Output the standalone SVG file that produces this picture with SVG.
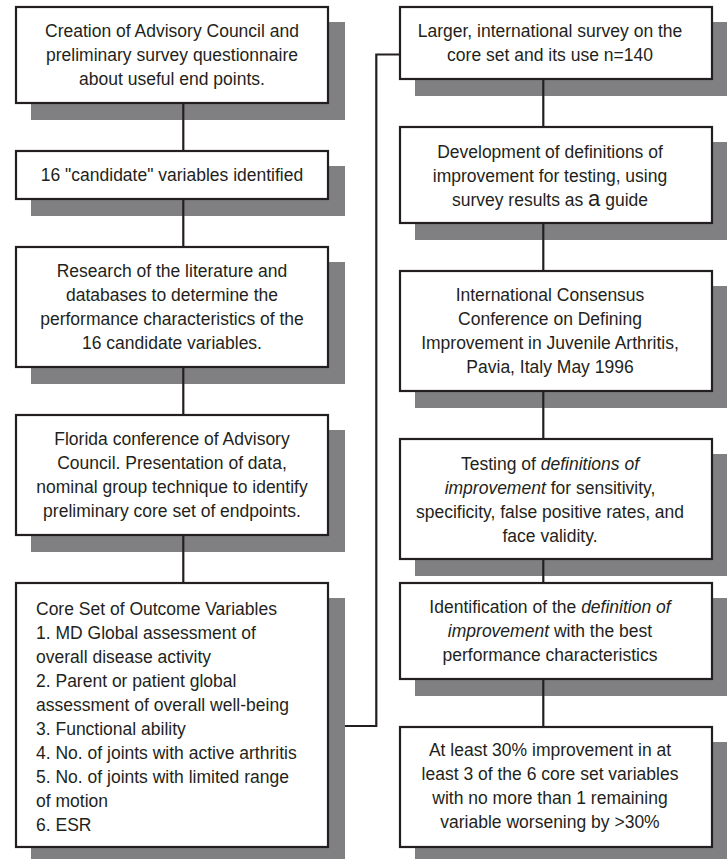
<svg xmlns="http://www.w3.org/2000/svg" width="727" height="859" viewBox="0 0 727 859">
<style>
.shadow{fill:#808083;stroke:none}
.box{fill:#fff;stroke:#231f20;stroke-width:2.2}
.t{font-family:"Liberation Sans",Arial,sans-serif;font-size:17.5px;fill:#231f20;text-anchor:middle}
.l{text-anchor:start}
.i{font-style:italic}
.conn{fill:none;stroke:#231f20;stroke-width:2.2}
</style>
<rect width="727" height="859" fill="#fff"/>
<g id="node-creation">
<rect class="shadow" x="31" y="22" width="314" height="98"/>
<rect class="box" x="16" y="7" width="312" height="96"/>
<text class="t" x="172" y="37">Creation of Advisory Council and</text>
<text class="t" x="172" y="61">preliminary survey questionnaire</text>
<text class="t" x="172" y="85">about useful  end points.</text>
</g>
<g id="node-candidates">
<rect class="shadow" x="31" y="166" width="314" height="50"/>
<rect class="box" x="16" y="151" width="312" height="48"/>
<text class="t" x="172" y="181">16 "candidate" variables identified</text>
</g>
<g id="node-research">
<rect class="shadow" x="31" y="262" width="314" height="122"/>
<rect class="box" x="16" y="247" width="312" height="120"/>
<text class="t" x="172" y="277">Research of the literature and</text>
<text class="t" x="172" y="301">databases to determine the</text>
<text class="t" x="172" y="325">performance characteristics of the</text>
<text class="t" x="172" y="349">16 candidate variables.</text>
</g>
<g id="node-florida">
<rect class="shadow" x="31" y="430" width="314" height="122"/>
<rect class="box" x="16" y="415" width="312" height="120"/>
<text class="t" x="172" y="445">Florida conference of Advisory</text>
<text class="t" x="172" y="469">Council. Presentation of data,</text>
<text class="t" x="172" y="493">nominal group technique to identify</text>
<text class="t" x="172" y="517">preliminary core set of endpoints.</text>
</g>
<g id="node-coreset">
<rect class="shadow" x="31" y="598" width="314" height="266"/>
<rect class="box" x="16" y="583" width="312" height="264"/>
<text class="t l" x="36" y="615">Core Set of Outcome Variables</text>
<text class="t l" x="36" y="639">1. MD Global assessment of</text>
<text class="t l" x="36" y="663">overall disease activity</text>
<text class="t l" x="36" y="687">2. Parent or patient global</text>
<text class="t l" x="36" y="711">assessment of overall well-being</text>
<text class="t l" x="36" y="735">3. Functional ability</text>
<text class="t l" x="36" y="759">4. No. of joints with active arthritis</text>
<text class="t l" x="36" y="783">5. No. of joints with limited range</text>
<text class="t l" x="36" y="807">of motion</text>
<text class="t l" x="36" y="831">6. ESR</text>
</g>
<g id="node-survey">
<rect class="shadow" x="415" y="22" width="314" height="74"/>
<rect class="box" x="400" y="7" width="312" height="72"/>
<text class="t" x="550" y="37">Larger, international survey on the</text>
<text class="t" x="550" y="61">core set and its use n=140</text>
</g>
<g id="node-development">
<rect class="shadow" x="415" y="142" width="314" height="98"/>
<rect class="box" x="400" y="127" width="312" height="96"/>
<text class="t" x="550" y="158">Development of definitions of</text>
<text class="t" x="550" y="182">improvement for testing, using</text>
<text class="t" x="550" y="206">survey results as <tspan font-size="22">a</tspan> guide</text>
</g>
<g id="node-pavia">
<rect class="shadow" x="415" y="286" width="314" height="122"/>
<rect class="box" x="400" y="271" width="312" height="120"/>
<text class="t" x="550" y="301">International Consensus</text>
<text class="t" x="550" y="325">Conference on Defining</text>
<text class="t" x="550" y="349">Improvement in Juvenile Arthritis,</text>
<text class="t" x="550" y="373">Pavia, Italy May 1996</text>
</g>
<g id="node-testing">
<rect class="shadow" x="415" y="454" width="314" height="122"/>
<rect class="box" x="400" y="439" width="312" height="120"/>
<text class="t" x="550" y="470">Testing of <tspan class="i">definitions of</tspan></text>
<text class="t" x="550" y="494"><tspan class="i">improvement</tspan> for sensitivity,</text>
<text class="t" x="550" y="518">specificity, false positive rates, and</text>
<text class="t" x="550" y="542">face validity.</text>
</g>
<g id="node-identification">
<rect class="shadow" x="415" y="598" width="314" height="98"/>
<rect class="box" x="400" y="583" width="312" height="96"/>
<text class="t" x="550" y="613">Identification of the <tspan class="i">definition of</tspan></text>
<text class="t" x="550" y="637"><tspan class="i">improvement</tspan> with the best</text>
<text class="t" x="550" y="661">performance characteristics</text>
</g>
<g id="node-result">
<rect class="shadow" x="415" y="742" width="314" height="122"/>
<rect class="box" x="400" y="727" width="312" height="120"/>
<text class="t" x="550" y="756">At least 30% improvement in at</text>
<text class="t" x="550" y="780">least 3 of the 6 core set variables</text>
<text class="t" x="550" y="804">with no more than 1 remaining</text>
<text class="t" x="550" y="828">variable worsening by &gt;30%</text>
</g>
<g id="connectors">
<line class="conn" x1="183.3" y1="103" x2="183.3" y2="151"/>
<line class="conn" x1="183.3" y1="199" x2="183.3" y2="247"/>
<line class="conn" x1="183.3" y1="367" x2="183.3" y2="415"/>
<line class="conn" x1="183.3" y1="535" x2="183.3" y2="583"/>
<line class="conn" x1="543.3" y1="79" x2="543.3" y2="127"/>
<line class="conn" x1="543.3" y1="223" x2="543.3" y2="271"/>
<line class="conn" x1="543.3" y1="391" x2="543.3" y2="439"/>
<line class="conn" x1="543.3" y1="559" x2="543.3" y2="583"/>
<line class="conn" x1="543.3" y1="679" x2="543.3" y2="727"/>
<polyline class="conn" points="345,726 376.3,726 376.3,54.5 400,54.5"/>
</g>
</svg>
